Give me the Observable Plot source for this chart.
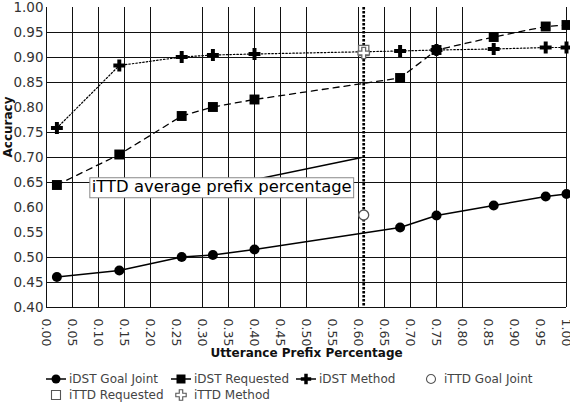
<!DOCTYPE html>
<html><head><meta charset="utf-8">
<script src="https://cdn.jsdelivr.net/npm/d3@7"></script>
<script src="https://cdn.jsdelivr.net/npm/@observablehq/plot@0.6"></script>
<style>
body{margin:0;background:#fff;font-family:"DejaVu Sans",sans-serif;}
#chart{width:570px;height:402px;position:relative;overflow:hidden;background:#fff}
.legend{position:relative;height:40px;font-size:12px;color:#444}
.item{position:absolute;display:flex;align-items:center;height:16px;white-space:nowrap}
.item svg{margin-right:3px}
</style></head><body><div id="chart"></div>
<script>
// ---- data ----
const prefix        = [0.02, 0.14, 0.26, 0.32, 0.40, 0.68, 0.75, 0.86, 0.96, 1.00];
const idstGoalJoint = [0.461, 0.474, 0.501, 0.505, 0.516, 0.560, 0.584, 0.604, 0.622, 0.627];
const idstRequested = [0.645, 0.706, 0.783, 0.801, 0.816, 0.859, 0.915, 0.941, 0.962, 0.965];
const idstMethod    = [0.759, 0.884, 0.901, 0.905, 0.907, 0.913, 0.915, 0.917, 0.920, 0.920];
const ittdPrefix    = 0.61;
const ittdGoalJoint = 0.585;
const ittdRequested = 0.914;
const ittdMethod    = 0.909;
const xTicks = [0.00,0.05,0.10,0.15,0.20,0.25,0.30,0.35,0.40,0.45,0.50,0.55,0.60,0.65,0.70,0.75,0.80,0.85,0.90,0.95,1.00];
const yTicks = [0.40,0.45,0.50,0.55,0.60,0.65,0.70,0.75,0.80,0.85,0.90,0.95,1.00];
const xGrid  = [0.05,0.10,0.15,0.20,0.30,0.35,0.40,0.45,0.50,0.60,0.65,0.70,0.75,0.80,1.00];
const yGrid  = [0.45,0.50,0.65,0.70,0.75,0.85,0.90,0.95];
const annotation = {text: "iTTD average prefix percentage", x: 0.337, y: 0.642, targetX: 0.606, targetY: 0.70};
const xLabel = "Utterance Prefix Percentage";
const yLabel = "Accuracy";
const legendNames = ["iDST Goal Joint","iDST Requested","iDST Method","iTTD Goal Joint","iTTD Requested","iTTD Method"];

// ---- tables ----
const rows = (ys) => prefix.map((p, i) => ({x: p, y: ys[i]}));
const goalRows = rows(idstGoalJoint), reqRows = rows(idstRequested), methRows = rows(idstMethod);
const ittd = (v) => [{x: ittdPrefix, y: v}];
const fmt = d3.format(".2f");

const chart = Plot.plot({
  width: 570, height: 362,
  marginLeft: 46, marginRight: 4, marginTop: 7, marginBottom: 55,
  style: {fontFamily: "DejaVu Sans", background: "white", overflow: "visible"},
  x: {domain: [0, 1], axis: null},
  y: {domain: [0.40, 1.00], axis: null},
  marks: [
    Plot.ruleX(xGrid, {stroke: "#111", strokeWidth: 1}),
    Plot.ruleY(yGrid, {stroke: "#111", strokeWidth: 1}),
    Plot.ruleX([0], {stroke: "#111", strokeWidth: 1}),
    Plot.ruleY([0.40], {stroke: "#111", strokeWidth: 1}),
    Plot.line(goalRows, {x: "x", y: "y", stroke: "black", strokeWidth: 1.5}),
    Plot.line(reqRows, {x: "x", y: "y", stroke: "black", strokeWidth: 1.3, strokeDasharray: "6,5"}),
    Plot.line(methRows, {x: "x", y: "y", stroke: "black", strokeWidth: 1.2, strokeDasharray: "1.5,2"}),
    Plot.ruleX([ittdPrefix], {stroke: "black", strokeWidth: 2.7, strokeDasharray: "2.5,1.5"}),
    Plot.link([annotation], {x1: "x", y1: "y", x2: "targetX", y2: "targetY", stroke: "black", strokeWidth: 1.5}),
    Plot.text([annotation], {x: "x", y: "y", text: "text", fontSize: 16.4, fill: "black"}),
    Plot.dot(goalRows, {x: "x", y: "y", r: 5, fill: "black", symbol: "circle"}),
    Plot.dot(reqRows, {x: "x", y: "y", r: 5.6, fill: "black", symbol: "square"}),
    Plot.dot(methRows, {x: "x", y: "y", r: 5, fill: "black", symbol: "cross"}),
    Plot.dot(ittd(ittdGoalJoint), {x: "x", y: "y", r: 5, fill: "white", stroke: "#555", strokeWidth: 1.3, symbol: "circle"}),
    Plot.dot(ittd(ittdRequested), {x: "x", y: "y", r: 5.8, fill: "white", stroke: "#666", strokeWidth: 1.3, symbol: "square"}),
    Plot.dot(ittd(ittdMethod), {x: "x", y: "y", r: 4.8, fill: "white", stroke: "#666", strokeWidth: 1.3, symbol: "cross"}),
    // y tick labels
    Plot.text(yTicks, {y: d => d, text: d => fmt(d), frameAnchor: "left", textAnchor: "end", dx: -3, fontSize: 13.5, fill: "#333"}),
    // x tick labels, rotated
    Plot.text(xTicks, {x: d => d, text: d => fmt(d), frameAnchor: "bottom", rotate: 90, textAnchor: "start", dy: 11, dx: -5, fontSize: 12.5, fill: "#333"}),
    Plot.text([yLabel], {text: d => d, frameAnchor: "left", rotate: -90, dx: -38, fontWeight: "bold", fontSize: 12, fill: "#111"}),
    Plot.text([xLabel], {text: d => d, frameAnchor: "bottom", dy: 49, fontWeight: "bold", fontSize: 12, fill: "#111"})
  ]
});
const root = document.getElementById("chart");
root.appendChild(chart);

// white boxed background behind the annotation text
chart.querySelectorAll("text").forEach(t => {
  if (t.textContent !== annotation.text) return;
  const b = t.getBBox();
  const r = document.createElementNS("http://www.w3.org/2000/svg", "rect");
  r.setAttribute("x", b.x - 2); r.setAttribute("y", b.y + 1);
  r.setAttribute("width", b.width + 4); r.setAttribute("height", b.height + 1);
  r.setAttribute("fill", "white"); r.setAttribute("stroke", "#888"); r.setAttribute("stroke-width", 1);
  const tr = t.getAttribute("transform");
  if (tr) r.setAttribute("transform", tr);
  t.parentNode.insertBefore(r, t);
});

// ---- legend ----
function marker(kind) {
  const s = d3.create("svg").attr("width", 20).attr("height", 12);
  if (kind.line) s.append("line").attr("x1", 0).attr("x2", 20).attr("y1", 6).attr("y2", 6).attr("stroke", "black").attr("stroke-width", 1.5);
  s.append("path").attr("transform", "translate(10,6)")
    .attr("d", d3.symbol(kind.sym, kind.size)())
    .attr("fill", kind.fill).attr("stroke", kind.stroke || "none").attr("stroke-width", 1.1);
  return s.node();
}
const kinds = [
  {line: true, sym: d3.symbolCircle, size: 64, fill: "black"},
  {line: true, sym: d3.symbolSquare, size: 81, fill: "black"},
  {line: true, sym: d3.symbolCross, size: 60, fill: "black"},
  {line: false, sym: d3.symbolCircle, size: 64, fill: "white", stroke: "#555"},
  {line: false, sym: d3.symbolSquare, size: 81, fill: "white", stroke: "#555"},
  {line: false, sym: d3.symbolCross, size: 60, fill: "white", stroke: "#555"}
];
const slots = [[46,9],[171,9],[296,9],[421,9],[46,25],[171,25]];
const legend = document.createElement("div");
legend.className = "legend";
legendNames.forEach((name, i) => {
  const it = document.createElement("div");
  it.className = "item";
  it.style.left = slots[i][0] + "px"; it.style.top = slots[i][1] + "px";
  it.appendChild(marker(kinds[i]));
  const sp = document.createElement("span"); sp.textContent = name;
  it.appendChild(sp);
  legend.appendChild(it);
});
root.appendChild(legend);
</script></body></html>
